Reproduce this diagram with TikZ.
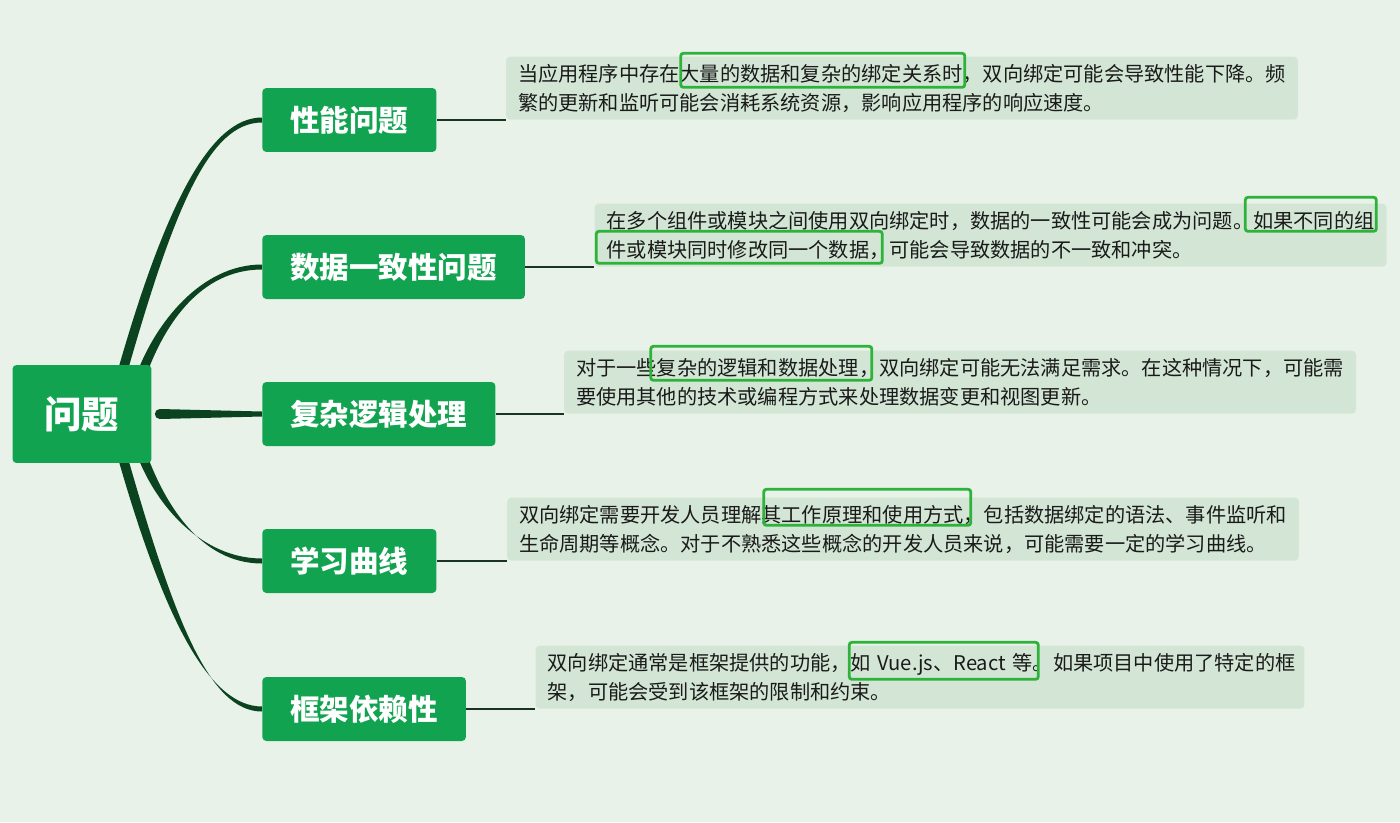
\documentclass[tikz,border=0pt]{standalone}
\usepackage{fontspec}
\setmainfont{Noto Sans CJK SC}
\usetikzlibrary{calc,positioning}
\definecolor{MapPaper}{HTML}{E8F2E8}
\definecolor{MapGreen}{HTML}{11A350}
\definecolor{MapLimb}{HTML}{0B4220}
\definecolor{MapNote}{HTML}{D3E6D5}
\definecolor{MapInk}{HTML}{1A1A1A}
\definecolor{MapLine}{HTML}{1A3322}
\definecolor{MapMark}{HTML}{2DB23A}
\pgfdeclarelayer{back}
\pgfdeclarelayer{limbs}
\pgfsetlayers{back,limbs,main}
\tikzset{
  every node/.style={text=MapInk},
  root/.style={fill=MapGreen, rounded corners=2.3pt, text=white, font=\bfseries\fontsize{21.3}{24}\selectfont, minimum width=2.78cm, minimum height=1.96cm},
  topic/.style={fill=MapGreen, rounded corners=2.3pt, text=white, font=\bfseries\fontsize{16.8}{20}\selectfont, minimum height=1.28cm, inner xsep=0.56cm, anchor=west},
  note/.style={fill=MapNote, rounded corners=2.3pt, text width=15.36cm, align=left, inner xsep=0.24cm, minimum height=1.26cm, font=\fontsize{11.5}{16.5}\selectfont, anchor=south west},
  stem/.style={draw=MapLine, line width=1pt},
  limb/.style={fill=MapLimb},
  hilite/.style={draw=MapMark, line width=1.6pt, rounded corners=1.5pt},
}
% tapered branch: start, control 1, control 2, end
\newcommand\drawlimb[4]{%
  \fill[limb] ($(#1)+(-5,0)$) .. controls ($(#2)+(-5,0)$) and ($(#3)+(0,-2.5)$) .. ($(#4)+(0,-2.5)$)
    -- ($(#4)+(0,2.5)$) .. controls ($(#3)+(0,2.5)$) and ($(#2)+(5,0)$) .. ($(#1)+(5,0)$) -- cycle;}
\begin{document}
\begin{tikzpicture}[x=0.02cm,y=-0.02cm]
  \useasboundingbox (0,0) rectangle (1400,822);
  \begin{pgfonlayer}{back}
    \fill[MapPaper] (0,0) rectangle (1400,822);
  \end{pgfonlayer}
  % root and topics
  \node[root] (root) at (82,414) {问题};
  \node[topic] (b1) at (262,120) {性能问题};
  \node[topic] (b2) at (262,267) {数据一致性问题};
  \node[topic] (b3) at (262,414) {复杂逻辑处理};
  \node[topic] (b4) at (262,561) {学习曲线};
  \node[topic] (b5) at (262,709) {框架依赖性};
  % notes
  \node[note] (d1) at ($(b1.east)+(69,0)$) {当应用程序中存在大量的数据和复杂的绑定关系时，双向绑定可能会导致性能下降。频\\繁的更新和监听可能会消耗系统资源，影响应用程序的响应速度。};
  \node[note] (d2) at ($(b2.east)+(69,0)$) {在多个组件或模块之间使用双向绑定时，数据的一致性可能会成为问题。如果不同的组\\件或模块同时修改同一个数据，可能会导致数据的不一致和冲突。};
  \node[note] (d3) at ($(b3.east)+(68,0)$) {对于一些复杂的逻辑和数据处理，双向绑定可能无法满足需求。在这种情况下，可能需\\要使用其他的技术或编程方式来处理数据变更和视图更新。};
  \node[note] (d4) at ($(b4.east)+(70,0)$) {双向绑定需要开发人员理解其工作原理和使用方式，包括数据绑定的语法、事件监听和\\生命周期等概念。对于不熟悉这些概念的开发人员来说，可能需要一定的学习曲线。};
  \node[note, text width=14.9cm] (d5) at ($(b5.east)+(69,0)$) {双向绑定通常是框架提供的功能，如~Vue.js、React~等。如果项目中使用了特定的框\\架，可能会受到该框架的限制和约束。};
  \foreach \i in {1,...,5}
    \draw[stem] (b\i.east) -- (d\i.south west);
  % marked phrases
  \draw[hilite] ($(d1.north west)+(175,-3)$) rectangle +(284,34);
  \draw[hilite] ($(d2.north west)+(651,-6)$) rectangle +(131,34);
  \draw[hilite] ($(d2.north west)+(2,28)$) rectangle +(286,32);
  \draw[hilite] ($(d3.north west)+(87,-4)$) rectangle +(221,34);
  \draw[hilite] ($(d4.north west)+(257,-8)$) rectangle +(207,36);
  \draw[hilite] ($(d5.north west)+(314,-3)$) rectangle +(189,37);
  % limbs from root
  \coordinate (s1) at ($(root.north west)+(110,8)$);
  \coordinate (s2) at ($(root.north west)+(130,8)$);
  \coordinate (s4) at ($(root.south west)+(130,-8)$);
  \coordinate (s5) at ($(root.south west)+(110,-8)$);
  \begin{pgfonlayer}{limbs}
    \drawlimb{s1}{170,205}{210,120}{b1.west}
    \drawlimb{s2}{160,325}{200,267}{b2.west}
    \drawlimb{s4}{160,503}{200,561}{b4.west}
    \drawlimb{s5}{170,623}{210,709}{b5.west}
    \fill[limb] ($(root.east)+(8,-5)$) -- ($(b3.west)+(0,-2.5)$) -- ($(b3.west)+(0,2.5)$) -- ($(root.east)+(8,5)$) -- cycle;
    \fill[limb] ($(root.east)+(8,0)$) circle (5);
  \end{pgfonlayer}
\end{tikzpicture}
\end{document}
